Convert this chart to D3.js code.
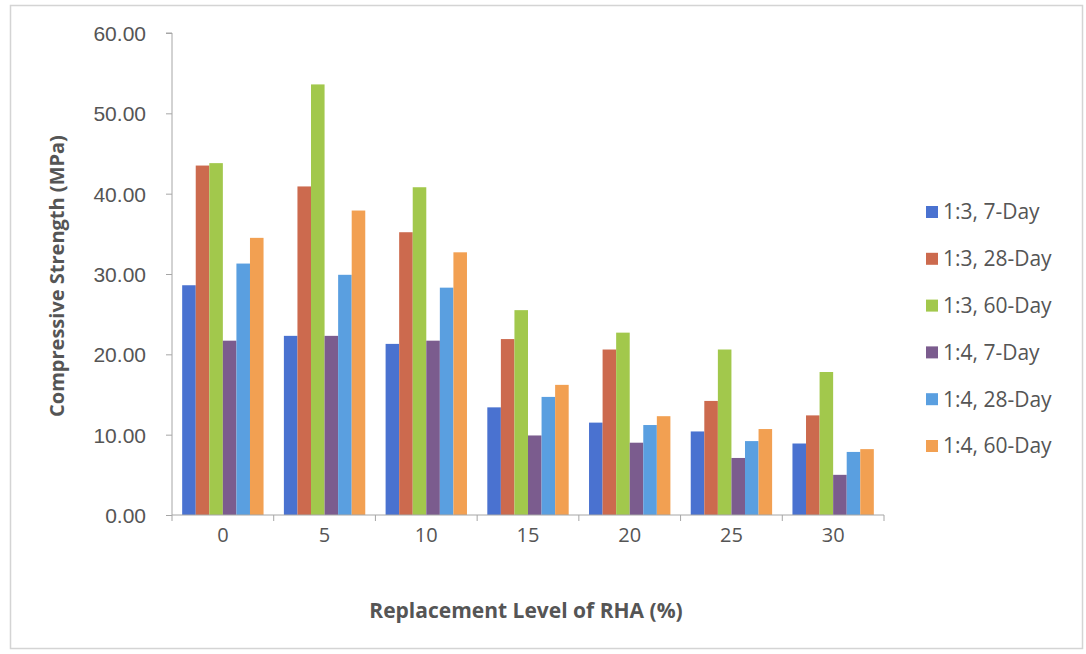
<!DOCTYPE html>
<html>
<head>
<meta charset="utf-8">
<script src="https://cdn.jsdelivr.net/npm/d3@7.8.5/dist/d3.min.js"></script>
<style>
  html, body { margin: 0; padding: 0; background: #fff; }
  svg { display: block; font-family: "Open Sans", "Noto Sans", sans-serif; }
</style>
</head>
<body>
<div id="chart"></div>
<script>
// Replacement level categories (x axis)
const categories = ['0', '5', '10', '15', '20', '25', '30'];
const seriesNames = ['1:3, 7-Day', '1:3, 28-Day', '1:3, 60-Day', '1:4, 7-Day', '1:4, 28-Day', '1:4, 60-Day'];
const seriesColors = ['#4a72d0', '#cc6a4e', '#a2c84c', '#7b5c8e', '#5a9fe0', '#f2a052'];

// values (MPa)
const mix13day7 = [28.6, 22.3, 21.3, 13.4, 11.5, 10.4, 8.9];
const mix13day28 = [43.5, 40.9, 35.2, 21.9, 20.6, 14.2, 12.4];
const mix13day60 = [43.8, 53.6, 40.8, 25.5, 22.7, 20.6, 17.8];
const mix14day7 = [21.7, 22.3, 21.7, 9.9, 9.0, 7.1, 5.0];
const mix14day28 = [31.3, 29.9, 28.3, 14.7, 11.2, 9.2, 7.85];
const mix14day60 = [34.5, 37.9, 32.7, 16.2, 12.3, 10.7, 8.2];

const yTicks = [0, 10, 20, 30, 40, 50, 60];

const seriesValues = [mix13day7, mix13day28, mix13day60, mix14day7, mix14day28, mix14day60];

const width = 1086, height = 654;
const plot = { left: 172, right: 884, top: 33, bottom: 515 };
const textColor = '#555555';
const axisColor = '#a6a6a6';

const svg = d3.select('#chart').append('svg')
    .attr('width', width)
    .attr('height', height);

// outer frame
svg.append('rect')
    .attr('x', 10.5).attr('y', 5.5)
    .attr('width', 1072).attr('height', 643)
    .style('fill', 'none')
    .style('stroke', '#d4d4d4')
    .style('stroke-width', '1.5px');

const x0 = d3.scaleBand()
    .domain(categories)
    .range([plot.left, plot.right])
    .padding(0);

// Excel style: gap between groups = 1.5 bar widths
const barW = x0.bandwidth() / 7.5;
const groupOffset = barW * 0.75;

const y = d3.scaleLinear()
    .domain([0, 60])
    .range([plot.bottom, plot.top]);

// bars
const groups = svg.append('g').selectAll('g')
    .data(categories)
    .enter()
    .append('g')
    .attr('transform', d => `translate(${x0(d) + groupOffset},0)`);

groups.selectAll('rect')
    .data((d, i) => seriesValues.map((vals, s) => ({ s, v: vals[i] })))
    .enter()
    .append('rect')
    .attr('x', d => d.s * barW)
    .attr('width', barW)
    .attr('y', d => y(d.v))
    .attr('height', d => y(0) - y(d.v))
    .style('fill', d => seriesColors[d.s]);

// y axis
const yAxis = d3.axisLeft(y)
    .tickValues(yTicks)
    .tickSize(6)
    .tickPadding(20)
    .tickFormat(d3.format('.2f'));

const gy = svg.append('g')
    .attr('transform', `translate(${plot.left},0)`)
    .call(yAxis);
gy.select('.domain').attr('d', `M-6,${plot.top}H0V${plot.bottom}`).style('stroke', axisColor);
gy.selectAll('.tick line').style('stroke', axisColor);
gy.selectAll('.tick text')
    .style('fill', textColor)
    .style('font-size', '21px')
    .attr('dy', '0.35em');

// x axis with ticks at category boundaries
const gx = svg.append('g')
    .attr('transform', `translate(0,${plot.bottom})`);
gx.append('line')
    .attr('x1', plot.left).attr('x2', plot.right)
    .style('stroke', axisColor);
gx.selectAll('.bound')
    .data(categories.concat(['end']))
    .enter()
    .append('line')
    .attr('class', 'bound')
    .attr('x1', (d, i) => plot.left + i * x0.bandwidth())
    .attr('x2', (d, i) => plot.left + i * x0.bandwidth())
    .attr('y1', 0).attr('y2', 6)
    .style('stroke', axisColor);
gx.selectAll('.lab')
    .data(categories)
    .enter()
    .append('text')
    .attr('x', d => x0(d) + x0.bandwidth() / 2)
    .attr('y', 27)
    .attr('text-anchor', 'middle')
    .style('fill', textColor)
    .style('font-size', '20px')
    .text(d => d);

// axis titles
svg.append('text')
    .attr('transform', 'translate(64,276) rotate(-90)')
    .attr('text-anchor', 'middle')
    .style('fill', textColor)
    .style('font-size', '20px')
    .style('font-weight', 'bold')
    .text('Compressive Strength (MPa)');

svg.append('text')
    .attr('x', 526)
    .attr('y', 618)
    .attr('text-anchor', 'middle')
    .style('fill', textColor)
    .style('font-size', '21px')
    .style('font-weight', 'bold')
    .text('Replacement Level of RHA (%)');

// legend
const legend = svg.append('g')
    .selectAll('g')
    .data(seriesNames)
    .enter()
    .append('g')
    .attr('transform', (d, i) => `translate(926,${212 + i * 46.8})`);

legend.append('rect')
    .attr('x', 0).attr('y', -6)
    .attr('width', 12).attr('height', 12)
    .style('fill', (d, i) => seriesColors[i]);

legend.append('text')
    .attr('x', 17)
    .attr('dy', '0.35em')
    .style('fill', textColor)
    .style('font-size', '21px')
    .text(d => d);
</script>
</body>
</html>
